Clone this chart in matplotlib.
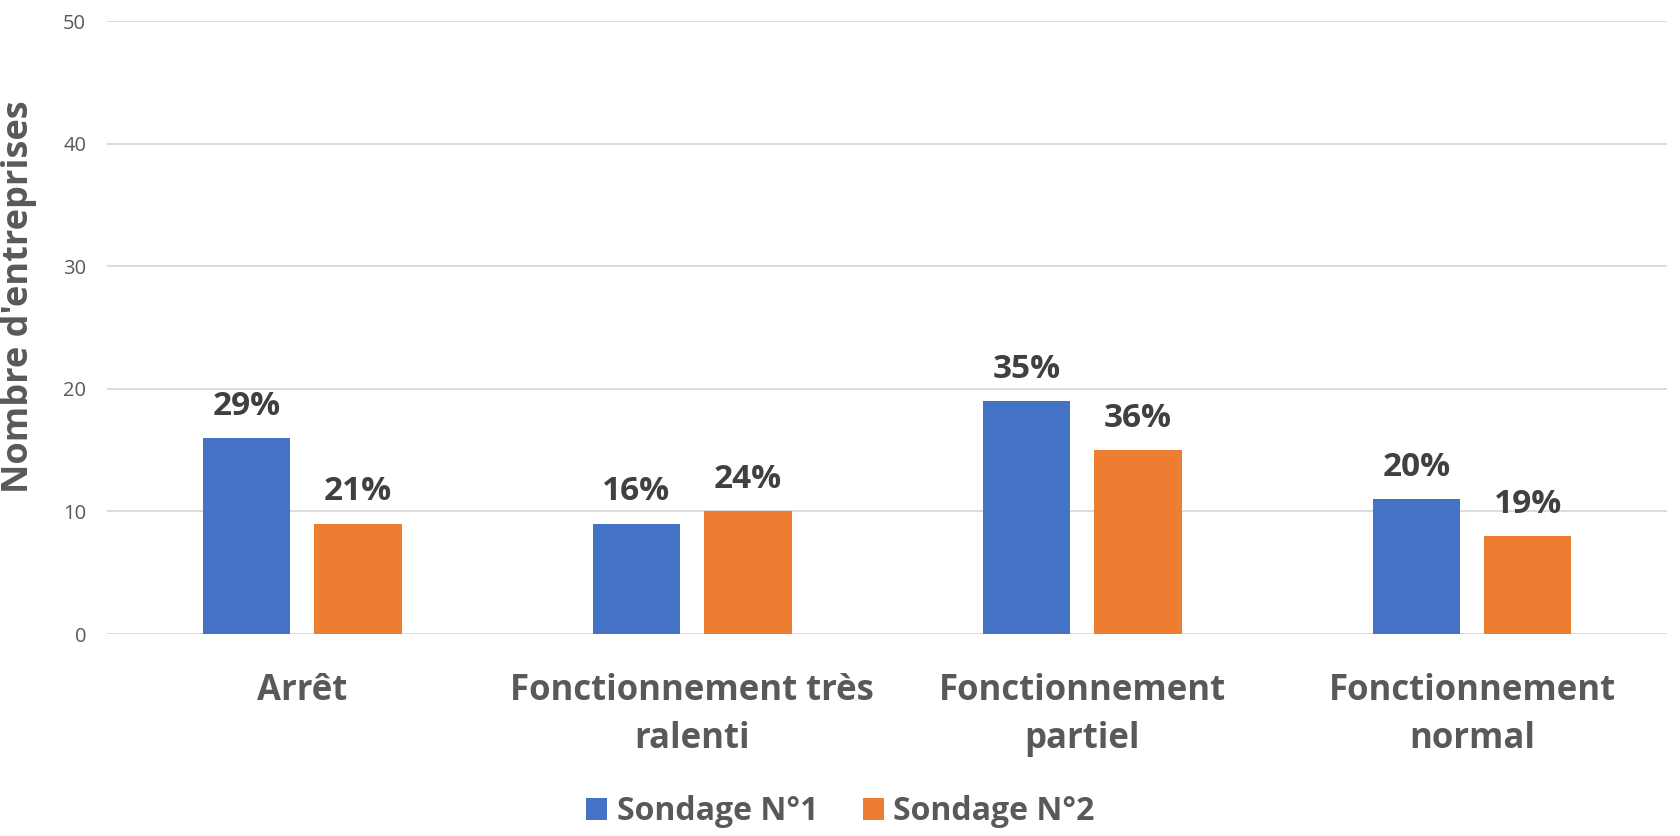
import numpy as np
import matplotlib.pyplot as plt

categories = ['Arrêt', 'Fonctionnement très\nralenti', 'Fonctionnement\npartiel', 'Fonctionnement\nnormal']
series_names = ['Sondage N°1', 'Sondage N°2']
sondage1 = [16, 9, 19, 11]
sondage2 = [9, 10, 15, 8]
labels1 = ['29%', '16%', '35%', '20%']
labels2 = ['21%', '24%', '36%', '19%']
yticks = [0, 10, 20, 30, 40, 50]

blue = '#4472C4'
orange = '#ED7D31'
grey = '#595959'
dark = '#404040'
font = 'Open Sans'

fig = plt.figure(figsize=(16.81, 8.36), dpi=100)
ax = fig.add_axes([0.0637, 0.2416, 0.928, 0.7328])

x = np.arange(len(categories))
w = 0.225
gap = 0.03
b1 = ax.bar(x - w/2 - gap, sondage1, w, color=blue, label=series_names[0], zorder=3)
b2 = ax.bar(x + w/2 + gap, sondage2, w, color=orange, label=series_names[1], zorder=3)

for bars, labs in [(b1, labels1), (b2, labels2)]:
    for rect, lab in zip(bars, labs):
        ax.annotate(lab, (rect.get_x() + rect.get_width()/2, rect.get_height()),
                    xytext=(0, 11), textcoords='offset points', ha='center', va='bottom',
                    fontsize=24, fontweight='bold', color=dark, family=font)

ax.set_xlim(-0.5, len(categories) - 0.5)
ax.set_ylim(0, 50)
ax.set_yticks(yticks)
ax.set_xticks(x)
ax.set_xticklabels(categories, fontsize=25, fontweight='bold', color=grey, family=font,
                   linespacing=1.45)
ax.tick_params(axis='x', length=0, pad=28)
ax.tick_params(axis='y', length=0, pad=15, labelsize=14.5, labelcolor=grey)
for t in ax.get_yticklabels():
    t.set_family(font)

ax.grid(axis='y', color='#D9D9D9', linewidth=1.3, zorder=0)
for s in ax.spines.values():
    s.set_visible(False)

ax.set_ylabel("Nombre d'entreprises", fontsize=26, fontweight='bold', color=grey,
              family=font)
ax.yaxis.set_label_coords(-0.045, 0.55)

leg = fig.legend(loc='lower center', bbox_to_anchor=(0.5, -0.025), ncol=2, frameon=False,
                 prop={'family': font, 'size': 23, 'weight': 'bold'},
                 handlelength=0.65, handleheight=0.65, columnspacing=1.4, handletextpad=0.3)
for t in leg.get_texts():
    t.set_color(grey)

fig.savefig('out.png', dpi=100)
